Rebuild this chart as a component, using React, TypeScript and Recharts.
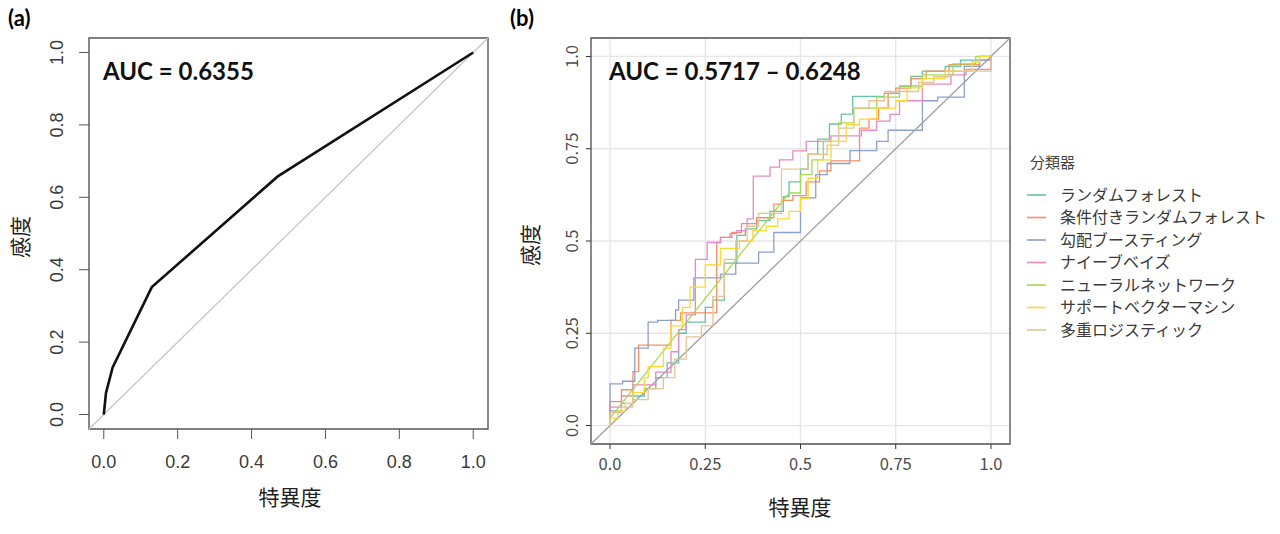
import React from "react";
import { LineChart, Line, XAxis, YAxis, CartesianGrid, ReferenceLine, ReferenceArea } from "recharts";

// panel (a): single ROC curve
const domA = [-0.04, 1.04];
const ticksA = [0, 0.2, 0.4, 0.6, 0.8, 1];
const rocA: [number, number][] = [
  [0, 0], [0.002, 0.02], [0.006, 0.06], [0.024, 0.13], [0.13, 0.352], [0.47, 0.657], [1, 1],
];

// panel (b): seven classifiers
const domB = [-0.05, 1.05];
const ticksB = [0, 0.25, 0.5, 0.75, 1];
const tickLabelsB = ["0.0", "0.25", "0.5", "0.75", "1.0"];
const minorB = [0.125, 0.375, 0.625, 0.875];

const classifiers = [
  "ランダムフォレスト",
  "条件付きランダムフォレスト",
  "勾配ブースティング",
  "ナイーブベイズ",
  "ニューラルネットワーク",
  "サポートベクターマシン",
  "多重ロジスティック",
];
const colors = ["#66C2A5", "#FC8D62", "#8DA0CB", "#E78AC3", "#A6D854", "#FFD92F", "#E5C494"];

// staircase curves: [1-spec where the rise happens, sens after the rise]
const rf: [number, number][] = [
  [0, 0], [0, 0.04], [0.03, 0.06], [0.06, 0.08], [0.09, 0.1], [0.12, 0.13], [0.15, 0.17], [0.18, 0.25],
  [0.2, 0.28], [0.25, 0.32], [0.27, 0.34], [0.3, 0.44], [0.333, 0.515], [0.355, 0.533], [0.385, 0.555],
  [0.42, 0.58], [0.455, 0.62], [0.47, 0.66], [0.5, 0.695], [0.52, 0.735], [0.545, 0.776], [0.576, 0.817],
  [0.607, 0.844], [0.637, 0.892], [0.72, 0.9], [0.76, 0.92], [0.79, 0.946], [0.82, 0.96], [0.88, 0.973],
  [0.92, 0.99], [0.97, 1], [1, 1],
];
const cforest: [number, number][] = [
  [0, 0], [0, 0.065], [0.03, 0.097], [0.06, 0.146], [0.075, 0.218], [0.16, 0.285], [0.185, 0.305],
  [0.28, 0.496], [0.29, 0.51], [0.32, 0.523], [0.345, 0.547], [0.385, 0.563], [0.43, 0.6], [0.45, 0.61],
  [0.48, 0.623], [0.515, 0.66], [0.55, 0.69], [0.58, 0.717], [0.655, 0.806], [0.68, 0.83], [0.705, 0.86],
  [0.73, 0.9], [0.75, 0.914], [0.79, 0.94], [0.83, 0.96], [0.89, 0.978], [0.97, 0.99], [1, 1],
];
const gbm: [number, number][] = [
  [0, 0], [0, 0.113], [0.033, 0.12], [0.065, 0.21], [0.1, 0.28], [0.125, 0.285], [0.172, 0.313],
  [0.18, 0.34], [0.22, 0.4], [0.29, 0.41], [0.33, 0.44], [0.39, 0.47], [0.43, 0.523], [0.5, 0.617],
  [0.54, 0.68], [0.57, 0.71], [0.63, 0.745], [0.7, 0.77], [0.73, 0.8], [0.82, 0.88], [0.86, 0.89],
  [0.93, 0.973], [0.97, 0.99], [1, 1],
];
const nb: [number, number][] = [
  [0, 0], [0, 0.05], [0.03, 0.08], [0.06, 0.11], [0.12, 0.145], [0.16, 0.2], [0.18, 0.26], [0.2, 0.3],
  [0.224, 0.45], [0.255, 0.496], [0.29, 0.51], [0.315, 0.52], [0.333, 0.528], [0.36, 0.56], [0.376, 0.676],
  [0.42, 0.7], [0.445, 0.72], [0.48, 0.744], [0.515, 0.77], [0.58, 0.785], [0.66, 0.8], [0.7, 0.825],
  [0.735, 0.843], [0.76, 0.88], [0.82, 0.925], [0.895, 0.95], [0.935, 0.965], [1, 1],
];
// neural network has a long diagonal run, so its corners are listed explicitly
const nn: [number, number][] = [
  [0, 0], [0, 0.02], [0.47, 0.63], [0.5, 0.63], [0.5, 0.68], [0.53, 0.68], [0.53, 0.72], [0.56, 0.72],
  [0.56, 0.77], [0.6, 0.77], [0.6, 0.82], [0.64, 0.82], [0.64, 0.86], [0.7, 0.86], [0.7, 0.89], [0.76, 0.89],
  [0.76, 0.92], [0.82, 0.92], [0.82, 0.95], [0.9, 0.95], [0.9, 0.98], [0.96, 0.98], [0.96, 1], [1, 1],
];
const svm: [number, number][] = [
  [0, 0], [0, 0.02], [0.02, 0.04], [0.04, 0.06], [0.06, 0.09], [0.09, 0.13], [0.1, 0.16], [0.14, 0.21],
  [0.16, 0.27], [0.19, 0.32], [0.21, 0.375], [0.25, 0.435], [0.29, 0.48], [0.34, 0.5], [0.375, 0.528],
  [0.41, 0.54], [0.44, 0.56], [0.47, 0.58], [0.5, 0.615], [0.52, 0.67], [0.545, 0.72], [0.58, 0.77],
  [0.62, 0.815], [0.655, 0.83], [0.7, 0.86], [0.75, 0.88], [0.78, 0.915], [0.82, 0.94], [0.88, 0.96],
  [0.95, 0.985], [0.97, 1], [1, 1],
];
const mlr: [number, number][] = [
  [0, 0], [0, 0.035], [0.03, 0.05], [0.06, 0.07], [0.1, 0.1], [0.14, 0.13], [0.17, 0.18], [0.2, 0.24],
  [0.24, 0.27], [0.27, 0.35], [0.3, 0.45], [0.33, 0.5], [0.36, 0.54], [0.39, 0.575], [0.45, 0.695],
  [0.52, 0.735], [0.57, 0.76], [0.6, 0.806], [0.64, 0.86], [0.68, 0.88], [0.72, 0.905], [0.81, 0.93],
  [0.85, 0.945], [0.89, 0.96], [1, 1],
];
const curvesB = [rf, cforest, gbm, nb, nn, svm, mlr];

const toPts = (a: [number, number][]) => a.map(([x, y]) => ({ x, y }));

const fontR = "'Liberation Sans', Arial, sans-serif";
const fontJ = "'Noto Sans CJK JP', sans-serif";
const fontB = "Lato, 'Open Sans', sans-serif";

export default function App() {
  const annA = () => (
    <g>
      <text x={8} y={26} fontFamily={fontB} fontWeight={700} fontSize={22} fill="#000">(a)</text>
      <text x={103} y={80} fontFamily={fontB} fontWeight={700} fontSize={24} fill="#111">AUC = 0.6355</text>
    </g>
  );
  const annB = () => (
    <g>
      <text x={510} y={26} fontFamily={fontB} fontWeight={700} fontSize={22} fill="#000">(b)</text>
      <text x={609} y={80} fontFamily={fontB} fontWeight={700} fontSize={24} fill="#111">AUC = 0.5717 – 0.6248</text>
      <text x={1030} y={168} fontFamily={fontJ} fontSize={15} fill="#444">分類器</text>
      {classifiers.map((n, i) => (
        <g key={n}>
          <line x1={1027} x2={1046} y1={195 + i * 22.5} y2={195 + i * 22.5} stroke={colors[i]} strokeWidth={1.6} />
          <text x={1060} y={200.5 + i * 22.5} fontFamily={fontJ} fontSize={16} fill="#3a3a3a">{n}</text>
        </g>
      ))}
    </g>
  );

  return (
    <div style={{ position: "absolute", left: 0, top: 0, width: 1280, height: 534, background: "#fff" }}>
      <div style={{ position: "absolute", left: 0, top: 0 }}>
        <LineChart width={500} height={534} margin={{ top: 38, right: 12, bottom: 0, left: 0 }}>
          <XAxis type="number" dataKey="x" domain={domA} ticks={ticksA} interval={0} allowDataOverflow height={105}
            axisLine={false} tickSize={10} tickLine={{ stroke: "#555" }}
            tick={(p: any) => (
              <text x={p.x} y={468} textAnchor="middle" fontFamily={fontR} fontSize={18} fill="#3a3a3a">{p.payload.value.toFixed(1)}</text>
            )}
            label={{ content: () => <text x={290} y={505} textAnchor="middle" fontFamily={fontJ} fontSize={21} fill="#222">特異度</text> }} />
          <YAxis type="number" dataKey="y" domain={domA} ticks={ticksA} interval={0} allowDataOverflow width={89}
            axisLine={false} tickSize={10} tickLine={{ stroke: "#555" }}
            tick={(p: any) => (
              <text x={63} y={p.y} transform={`rotate(-90 63 ${p.y})`} textAnchor="middle" fontFamily={fontR} fontSize={18} fill="#3a3a3a">{p.payload.value.toFixed(1)}</text>
            )}
            label={{ content: () => <text x={28} y={237} transform="rotate(-90 28 237)" textAnchor="middle" fontFamily={fontJ} fontSize={21} fill="#222">感度</text> }} />
          <ReferenceLine segment={[{ x: domA[0], y: domA[0] }, { x: domA[1], y: domA[1] }]} stroke="#c4c4c4" strokeWidth={1.2} ifOverflow="visible" />
          <Line data={toPts(rocA)} dataKey="y" type="linear" stroke="#111" strokeWidth={2.6} dot={false} isAnimationActive={false} />
          <ReferenceArea x1={domA[0]} x2={domA[1]} y1={domA[0]} y2={domA[1]} fill="none" fillOpacity={0} stroke="#555" strokeWidth={1.4}
            label={{ content: annA }} />
        </LineChart>
      </div>
      <div style={{ position: "absolute", left: 0, top: 0 }}>
        <LineChart width={1280} height={534} margin={{ top: 38, right: 270, bottom: 0, left: 0 }}>
          <XAxis xAxisId="minor" type="number" dataKey="x" domain={domB} ticks={minorB} interval={0} hide />
          <YAxis yAxisId="minor" type="number" dataKey="y" domain={domB} ticks={minorB} interval={0} hide />
          <CartesianGrid xAxisId="minor" yAxisId="minor" stroke="#eeeeee" strokeWidth={1} />
          <XAxis type="number" dataKey="x" domain={domB} ticks={ticksB} interval={0} allowDataOverflow height={90}
            axisLine={false} tickSize={5} tickLine={{ stroke: "#333" }}
            tick={(p: any) => (
              <text x={p.x} y={470} textAnchor="middle" fontFamily={fontJ} fontSize={16.5} fill="#4d4d4d">{tickLabelsB[ticksB.indexOf(p.payload.value)]}</text>
            )}
            label={{ content: () => <text x={800} y={515} textAnchor="middle" fontFamily={fontJ} fontSize={21} fill="#222">特異度</text> }} />
          <YAxis type="number" dataKey="y" domain={domB} ticks={ticksB} interval={0} allowDataOverflow width={591}
            axisLine={false} tickSize={5} tickLine={{ stroke: "#333" }}
            tick={(p: any) => (
              <text x={578} y={p.y} transform={`rotate(-90 578 ${p.y})`} textAnchor="middle" fontFamily={fontJ} fontSize={16.5} fill="#4d4d4d">{tickLabelsB[ticksB.indexOf(p.payload.value)]}</text>
            )}
            label={{ content: () => <text x={538} y={245} transform="rotate(-90 538 245)" textAnchor="middle" fontFamily={fontJ} fontSize={21} fill="#222">感度</text> }} />
          <CartesianGrid stroke="#e6e6e6" strokeWidth={1.3} />
          <ReferenceLine segment={[{ x: domB[0], y: domB[0] }, { x: domB[1], y: domB[1] }]} stroke="#9a9a9a" strokeWidth={1.2} ifOverflow="visible" />
          {curvesB.map((c, i) => (
            <Line key={classifiers[i]} name={classifiers[i]} data={toPts(c)} dataKey="y" type={c === nn ? "linear" : "stepAfter"}
              stroke={colors[i]} strokeWidth={1.3} dot={false} isAnimationActive={false} />
          ))}
          <ReferenceArea x1={domB[0]} x2={domB[1]} y1={domB[0]} y2={domB[1]} fill="none" fillOpacity={0} stroke="#555" strokeWidth={1.3}
            label={{ content: annB }} />
        </LineChart>
      </div>
    </div>
  );
}
